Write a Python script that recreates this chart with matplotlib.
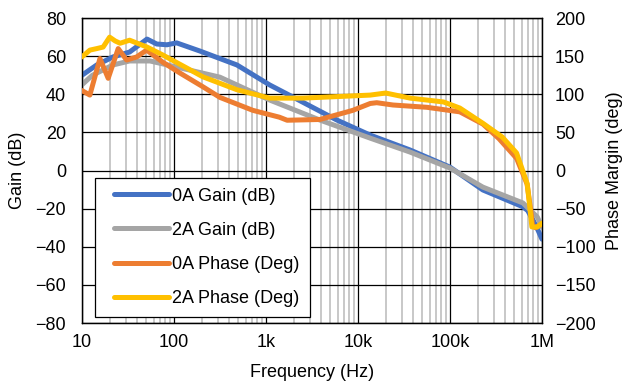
import matplotlib
matplotlib.use("Agg")
import matplotlib.pyplot as plt
from matplotlib.ticker import LogLocator, NullFormatter
from matplotlib.legend_handler import HandlerLine2D
from matplotlib.lines import Line2D

plt.rcParams['font.family'] = ['Liberation Sans', 'DejaVu Sans']

# ---- data ----
f_gain0 = [10, 14.5, 21.7, 33, 51, 65, 84, 107, 192, 484, 1100, 1960, 5900, 13600,
           36800, 100000, 228000, 620000, 700000, 800000, 900000, 1000000]
gain0 = [50, 55.4, 59.6, 62.2, 69, 66.4, 66, 67, 62.7, 55.4, 44.9, 38.6, 26.5, 18.6,
         10.8, 1.8, -10.2, -19, -21, -26, -31, -36]

f_gain2 = [10, 13, 21.7, 33, 55, 107, 316, 1100, 3860, 13600, 36800, 100000, 228000,
           620000, 890000, 1000000]
gain2 = [45, 50, 55.4, 57.5, 57.5, 54.3, 49, 37, 26.5, 17, 9.7, 1.3, -8.7, -17, -24.4, -29.7]

f_phase0 = [10, 12.2, 15.7, 19.3, 24.8, 30.6, 39.3, 50.5, 76, 116, 206, 316, 720, 1400,
            1700, 3860, 8800, 13600, 16000, 24000, 56000, 128000, 228000, 340000,
            530000, 690000, 760000, 790000, 850000, 1000000]
phase0 = [105, 99, 147, 121, 160, 145, 149, 158, 142, 128, 110, 96, 79, 70,
          66, 67, 79, 88, 89, 86, 83, 77, 61, 42, 16, -18, -55, -72, -75, -70]

f_phase2 = [10, 12.2, 14.5, 17, 20, 23, 26, 33, 51, 76, 138, 206, 484, 1100, 2500,
            13600, 20000, 37000, 85000, 128000, 228000, 370000, 530000, 690000,
            730000, 777000, 890000, 1000000]
phase2 = [149, 158, 160, 162, 175, 170, 167, 171, 162, 151.5, 134.5, 123, 106, 95, 95,
          99, 101.7, 95, 90, 82, 62, 44, 23, -17, -43, -74, -74, -69]

gain_ticks = [-80, -60, -40, -20, 0, 20, 40, 60, 80]
phase_ticks = [-200, -150, -100, -50, 0, 50, 100, 150, 200]
x_ticks = [10, 100, 1000, 10000, 100000, 1000000]
x_labels = ['10', '100', '1k', '10k', '100k', '1M']

c_blue, c_gray, c_orange, c_yellow = '#4472C4', '#A5A5A5', '#ED7D31', '#FFC000'

fs = 13
fig = plt.figure(figsize=(6.35, 3.85), dpi=100)
ax = fig.add_axes([0.129, 0.161, 0.7245, 0.792])
ax2 = ax.twinx()

lw = 3.6
l1, = ax.plot(f_gain0, gain0, color=c_blue, lw=lw, solid_joinstyle='round',
              solid_capstyle='round', label='0A Gain (dB)', zorder=3)
l2, = ax.plot(f_gain2, gain2, color=c_gray, lw=lw, solid_joinstyle='round',
              solid_capstyle='round', label='2A Gain (dB)', zorder=3)
l3, = ax2.plot(f_phase0, phase0, color=c_orange, lw=lw, solid_joinstyle='round',
               solid_capstyle='round', label='0A Phase (Deg)', zorder=3)
l4, = ax2.plot(f_phase2, phase2, color=c_yellow, lw=lw, solid_joinstyle='round',
               solid_capstyle='round', label='2A Phase (Deg)', zorder=3)

ax.set_xscale('log')
ax.set_xlim(10, 1e6)
ax.set_ylim(-80, 80)
ax2.set_ylim(-200, 200)
ax.set_yticks(gain_ticks)
ax2.set_yticks(phase_ticks)
ax.set_xticks(x_ticks)
ax.set_xticklabels(x_labels)
ax.xaxis.set_minor_locator(LogLocator(base=10, subs=range(2, 10), numticks=20))
ax.xaxis.set_minor_formatter(NullFormatter())

ax.grid(True, which='minor', axis='x', color='#BFBFBF', lw=1.2, zorder=0)
ax.grid(True, which='major', axis='x', color='#000000', lw=0.9, zorder=1)
ax.grid(True, which='major', axis='y', color='#000000', lw=0.9, zorder=1)
ax.set_axisbelow(True)

for a in (ax, ax2):
    a.tick_params(which='both', length=0, labelsize=fs, colors='black')
    for s in a.spines.values():
        s.set_color('black')
        s.set_linewidth(0.9)
ax.tick_params(axis='y', pad=11.5)
ax2.tick_params(axis='y', pad=9.4)
ax.tick_params(axis='x', pad=8)

ax.set_ylabel('Gain (dB)', fontsize=fs, labelpad=6.5)
ax2.set_ylabel('Phase Margin (deg)', fontsize=fs, labelpad=7)
ax.set_xlabel('Frequency (Hz)', fontsize=fs, labelpad=9)

handler = HandlerLine2D(xpad=0.5)
leg = ax2.legend(handles=[l1, l2, l3, l4], loc='lower left',
                 bbox_to_anchor=(0.028, 0.02), borderaxespad=0,
                 fontsize=fs, frameon=True, fancybox=False, framealpha=1,
                 edgecolor='black', handlelength=3.55, handletextpad=0.2,
                 labelspacing=0.95, borderpad=0.55,
                 handler_map={Line2D: handler})
leg.get_frame().set_linewidth(0.9)
leg.set_zorder(10)

fig.savefig('out.png', dpi=100)
